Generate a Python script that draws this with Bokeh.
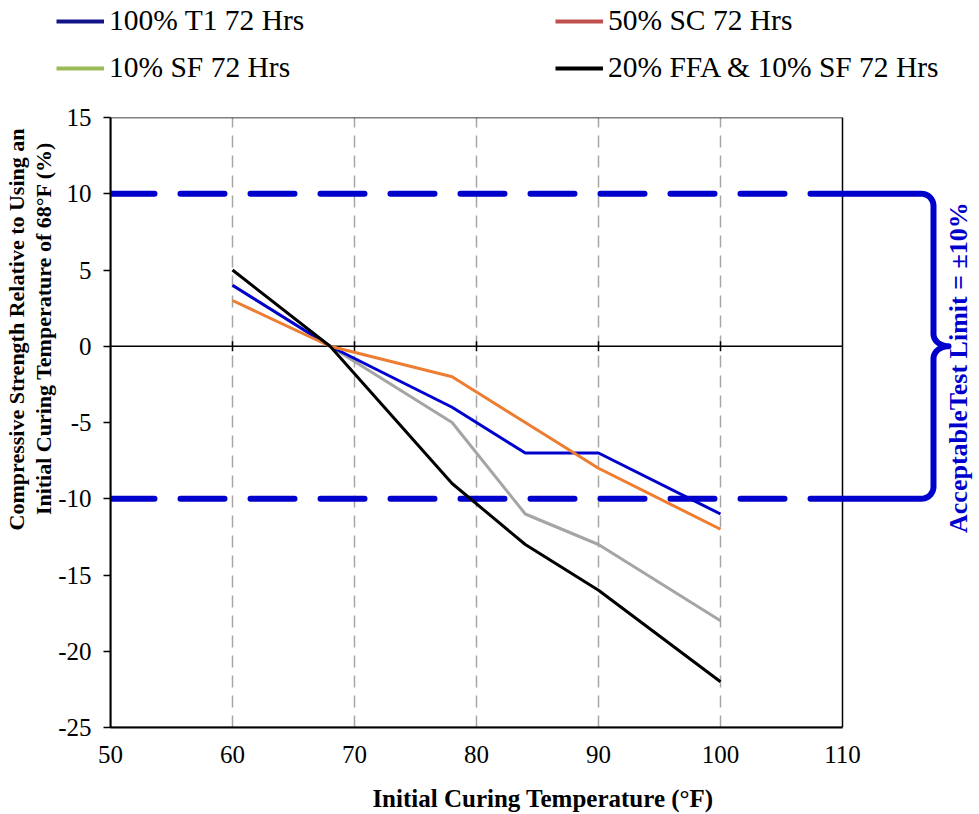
import numpy as np
from math import pi
from bokeh.plotting import figure
from bokeh.models import (Legend, LegendItem, Label, Title, FixedTicker, Range1d)
from bokeh.embed import file_html
from bokeh.resources import INLINE

# ---------------- data ----------------
temps = [60, 68, 78, 84, 90, 100]
t1_72 = [4, 0, -4, -7, -7, -11]
sc_72 = [3, 0, -2, -5, -8, -12]
sf_72 = [4, 0, -5, -11, -13, -18]
ffa_sf_72 = [5, 0, -9, -13, -16, -22]

series_names = ["100% T1 72 Hrs", "50% SC 72 Hrs", "10% SF 72 Hrs",
                "20% FFA & 10% SF 72 Hrs"]
x_ticks = [50, 60, 70, 80, 90, 100, 110]
y_ticks = [-25, -20, -15, -10, -5, 0, 5, 10, 15]
grid_ticks = [60, 70, 80, 90, 100]
limit = 10
limit_label = "AcceptableTest Limit = \u00b110%"
x_title = "Initial Curing Temperature (\u00b0F)"
y_title_1 = "Compressive Strength Relative to Using an"
y_title_2 = "Initial Curing Temperature of 68\u00b0F (%)"

FONT = "Liberation Serif"
LIMIT_BLUE = "#0000CC"

# ---------------- layout constants ----------------
W = 975
LEG_H = 85
MAIN_H = 729
FRAME_LEFT = 110
FRAME_W_BOX = 732          # pixel width of the 50..110 box
FRAME_TOP = 117 - LEG_H
FRAME_BOTTOM = 727 - LEG_H
px_per_x = FRAME_W_BOX / (x_ticks[-1] - x_ticks[0])
x_end = x_ticks[0] + (W - FRAME_LEFT) / px_per_x

# ---------------- main figure ----------------
p = figure(width=W, height=MAIN_H, x_range=Range1d(x_ticks[0], x_end),
           y_range=Range1d(y_ticks[0], y_ticks[-1]),
           output_backend="svg", toolbar_location=None,
           min_border_left=FRAME_LEFT, min_border_right=0,
           min_border_top=FRAME_TOP, min_border_bottom=MAIN_H - FRAME_BOTTOM)
p.background_fill_color = "white"
p.border_fill_color = "white"
p.outline_line_color = None

# grid (vertical dashed only)
p.ygrid.visible = False
p.xgrid.ticker = FixedTicker(ticks=grid_ticks)
p.xgrid.grid_line_color = "#A6A6A6"
p.xgrid.grid_line_width = 1.5
p.xgrid.grid_line_dash = "12 8"

# axes
p.xaxis.ticker = FixedTicker(ticks=x_ticks)
p.xaxis.bounds = (x_ticks[0], x_ticks[-1])
p.yaxis.ticker = FixedTicker(ticks=y_ticks)
p.yaxis.major_label_overrides = {v: str(v) for v in y_ticks}
for ax in (p.xaxis, p.yaxis):
    ax.axis_line_color = "black"
    ax.axis_line_width = 2
    ax.major_tick_line_color = "black"
    ax.major_tick_line_width = 1.5
    ax.minor_tick_line_color = None
    ax.major_label_text_font = FONT
    ax.major_label_text_font_size = "25px"
    ax.major_label_text_color = "black"
    ax.axis_label_text_font = FONT
    ax.axis_label_text_font_style = "bold"
    ax.axis_label_text_color = "black"
p.xaxis.major_tick_in = 0
p.xaxis.major_tick_out = 0
p.xaxis.major_label_standoff = 18
p.xaxis.axis_label = x_title
p.xaxis.axis_label_text_font_size = "25px"
p.xaxis.axis_label_standoff = 19
p.yaxis.major_tick_in = 0
p.yaxis.major_tick_out = 7
p.yaxis.major_label_standoff = 12

# y-axis title as two lines placed in the left panel
for txt, off in ((y_title_2, 24), (y_title_1, 11)):
    p.add_layout(Title(text=txt, align="right", offset=off, standoff=0,
                       text_font=FONT, text_font_size="22px",
                       text_font_style="bold", text_color="black"), "left")

# plot box
p.quad(left=[x_ticks[0]], right=[x_ticks[-1]], bottom=[y_ticks[0]], top=[y_ticks[-1]],
       fill_alpha=0, line_color="black", line_width=1.5)

# zero line with crossing ticks
p.segment(x0=[x_ticks[0]], y0=[0], x1=[x_ticks[-1]], y1=[0], line_color="black", line_width=1.5)
p.scatter(x=grid_ticks, y=[0] * len(grid_ticks), marker="dash", angle=pi / 2,
          size=10, line_color="black", line_width=1.5)

# acceptable limits
p.segment(x0=[x_ticks[0]] * 2, y0=[limit, -limit], x1=[x_ticks[-1]] * 2, y1=[limit, -limit],
          line_color=LIMIT_BLUE, line_width=6, line_dash="44 26", line_cap="round")

# data lines (gray first so that blue covers it at 60)
p.line(temps, sf_72, line_color="#A5A5A5", line_width=3)
p.line(temps, t1_72, line_color="#0000CC", line_width=3)
p.line(temps, sc_72, line_color="#ED7D31", line_width=3)
p.line(temps, ffa_sf_72, line_color="black", line_width=3)

# brace to the right of the box
xmax = x_ticks[-1]
xv = xmax + 91 / px_per_x
xt = xmax + 106 / px_per_x
rx, ry = 12 / px_per_x, 0.8
pts_x, pts_y = [xmax], [limit]
th = np.linspace(pi / 2, 0, 12)
pts_x += list(xv - rx + rx * np.cos(th)); pts_y += list(limit - ry + ry * np.sin(th))
th = np.linspace(pi, 1.5 * pi, 12)
pts_x += list(xt + (xt - xv) * np.cos(th)); pts_y += list(ry + ry * np.sin(th))
th = np.linspace(0.5 * pi, pi, 12)
pts_x += list(xt + (xt - xv) * np.cos(th)); pts_y += list(-ry + ry * np.sin(th))
th = np.linspace(0, -pi / 2, 12)
pts_x += list(xv - rx + rx * np.cos(th)); pts_y += list(-limit + ry + ry * np.sin(th))
pts_x += [xmax]; pts_y += [-limit]
p.line(pts_x, pts_y, line_color=LIMIT_BLUE, line_width=6, line_join="round")

p.add_layout(Label(x=xmax + 116 / px_per_x, y=-1.4, text=limit_label, angle=pi / 2,
                   text_align="center", text_baseline="middle",
                   text_font=FONT, text_font_style="bold",
                   text_font_size="26px", text_color=LIMIT_BLUE))

# ---------------- legend strip (separate root, colours as in the source legend) ----------------
lf = figure(width=W, height=LEG_H, x_range=Range1d(0, 1), y_range=Range1d(0, 1),
            output_backend="svg", toolbar_location=None, min_border=0,
            x_axis_type=None, y_axis_type=None)
lf.outline_line_color = None
lf.background_fill_color = "white"
lf.border_fill_color = "white"
lf.xgrid.visible = False
lf.ygrid.visible = False

legend_colors = ["#14148A", "#C0504D", "#9BBB59", "black"]
dummies = [lf.line([np.nan, np.nan], [np.nan, np.nan], line_color=c, line_width=4)
           for c in legend_colors]


def make_legend(idx, loc):
    lg = Legend(items=[LegendItem(label=series_names[i], renderers=[dummies[i]]) for i in idx],
                location=loc, orientation="vertical")
    lg.border_line_color = None
    lg.background_fill_alpha = 0
    lg.padding = 0
    lg.margin = 0
    lg.spacing = 14
    lg.glyph_width = 48
    lg.glyph_height = 30
    lg.label_height = 30
    lg.label_standoff = 5
    lg.label_text_font = FONT
    lg.label_text_font_size = "29.5px"
    lg.label_text_color = "black"
    return lg


lf.add_layout(make_legend([0, 2], (56, 1)))
lf.add_layout(make_legend([1, 3], (555, 1)))

open("out.html", "w").write(file_html([lf, p], INLINE))
